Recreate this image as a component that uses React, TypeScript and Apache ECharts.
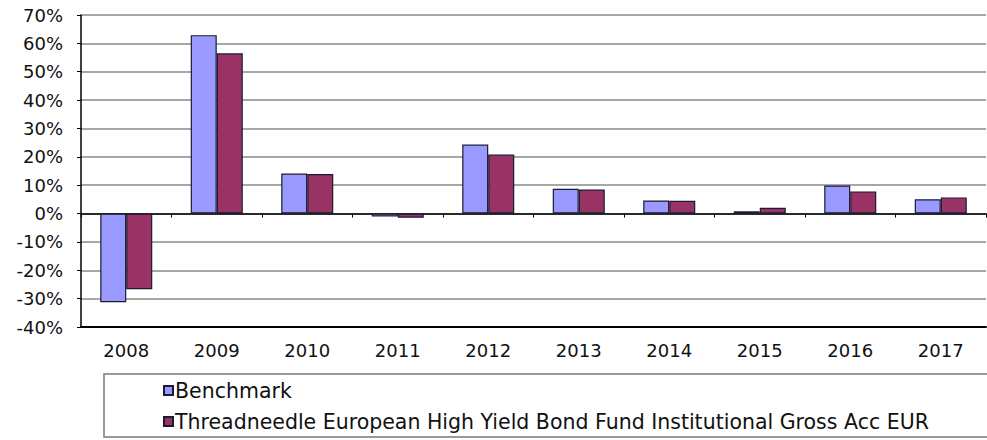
import React, { useEffect, useRef } from "react";
import * as echarts from "echarts";

const years = ["2008", "2009", "2010", "2011", "2012", "2013", "2014", "2015", "2016", "2017"];
const benchmark = [-31.3, 62.9, 14.1, -1.0, 24.3, 8.7, 4.6, 0.8, 9.9, 5.0];
const fund = [-26.7, 56.5, 13.9, -1.5, 20.8, 8.5, 4.5, 2.0, 7.8, 5.7];
const seriesNames = ["Benchmark", "Threadneedle European High Yield Bond Fund Institutional Gross Acc EUR"];

const FONT = "DejaVu Sans";

export default function App() {
  const ref = useRef<HTMLDivElement>(null);
  useEffect(() => {
    if (!ref.current) return;
    const chart = echarts.init(ref.current, null, { renderer: "svg" });
    const legendBase = {
      orient: "horizontal",
      left: 163,
      itemWidth: 9,
      itemHeight: 9,
      icon: "rect",
      padding: 0,
      textStyle: { fontFamily: FONT, fontSize: 20.5, color: "#111", padding: [0, 0, 0, -3] },
    };
    chart.setOption({
      animation: false,
      backgroundColor: "#ffffff",
      grid: { left: 81, right: 1, top: 15, bottom: 113 },
      xAxis: [
        {
          type: "category",
          data: years,
          position: "bottom",
          axisLine: { onZero: false, lineStyle: { color: "#000", width: 2 } },
          axisTick: { show: false },
          axisLabel: { color: "#111", fontFamily: FONT, fontSize: 18, margin: 14 },
          splitLine: { show: false },
        },
        {
          type: "category",
          data: years,
          position: "bottom",
          axisLine: { onZero: true, lineStyle: { color: "#000", width: 1.5 } },
          axisTick: { show: true, length: 4, inside: false, lineStyle: { color: "#000", width: 1 } },
          axisLabel: { show: false },
          splitLine: { show: false },
        },
      ],
      yAxis: {
        type: "value",
        min: -40,
        max: 70,
        interval: 10,
        axisLine: { show: true, lineStyle: { color: "#000", width: 1.5 } },
        axisTick: { show: true, length: 4, lineStyle: { color: "#000" } },
        axisLabel: {
          color: "#111",
          fontFamily: FONT,
          fontSize: 18,
          margin: 18,
          formatter: (v: number) => `${v}%`,
        },
        splitLine: { show: true, lineStyle: { color: "#8a8a8a", width: 1.5 } },
      },
      legend: [
        { ...legendBase, top: 380, data: [seriesNames[0]] },
        { ...legendBase, top: 411, data: [seriesNames[1]] },
      ],
      graphic: [
        {
          type: "rect",
          shape: { x: 104, y: 374, width: 900, height: 63 },
          style: { fill: "none", stroke: "#7a7a7a", lineWidth: 1.5 },
          z: 10,
        },
      ],
      series: [
        {
          name: seriesNames[0],
          type: "bar",
          xAxisIndex: 0,
          data: benchmark,
          barGap: "0%",
          barCategoryGap: "42.5%",
          itemStyle: { color: "#9999FF", borderColor: "#1a1a33", borderWidth: 1.2 },
        },
        {
          name: seriesNames[1],
          type: "bar",
          xAxisIndex: 0,
          data: fund,
          barGap: "0%",
          barCategoryGap: "42.5%",
          itemStyle: { color: "#993366", borderColor: "#1a1a33", borderWidth: 1.2 },
        },
      ],
    });
    return () => chart.dispose();
  }, []);
  return <div ref={ref} style={{ position: "absolute", left: 0, top: 0, width: 987, height: 440 }} />;
}
